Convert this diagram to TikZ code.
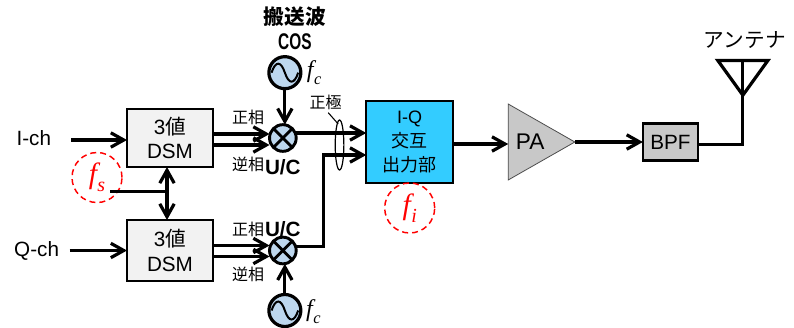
\documentclass[tikz,border=0pt]{standalone}
\usepackage{fontspec}
\usepackage{xcolor}
\usepackage{tikz}
\usetikzlibrary{arrows.meta,positioning,shapes.geometric}
\setmainfont{Liberation Sans}
\newfontfamily\jpfont{Noto Sans CJK JP}
\newfontfamily\serifit{Liberation Serif}
\newcommand{\freq}[1]{{\serifit\itshape f\kern.02em\raisebox{-.28em}{\scalebox{.68}{#1}}}}
\definecolor{myblue}{RGB}{189,215,238}
\definecolor{mycyan}{RGB}{51,204,255}
\definecolor{mygray}{RGB}{200,200,200}
\definecolor{mylight}{RGB}{242,242,242}

\begin{document}
\begin{tikzpicture}[
    every node/.style={outer sep=0pt, align=center},
    dsmbox/.style={draw, fill=mylight, line width=1.5pt, minimum width=64.5pt, minimum height=43.5pt,
        font=\fontsize{15.5}{18.5}\selectfont},
    mixer/.style={circle, draw, fill=myblue, line width=2.2pt, inner sep=0pt, minimum size=20pt,
        path picture={\draw[line width=2pt] (path picture bounding box.north west) -- (path picture bounding box.south east)
            (path picture bounding box.north east) -- (path picture bounding box.south west);}},
    osc/.style={circle, draw, fill=myblue, line width=2.4pt, inner sep=0pt, minimum size=24pt,
        path picture={\draw[line width=1.5pt, shift={(path picture bounding box.center)}]
            (-10pt,0) .. controls (-7pt,9pt) and (-3pt,9pt) .. (0,0) .. controls (3pt,-9pt) and (7pt,-9pt) .. (10pt,0);}},
    iqbox/.style={draw, fill=mycyan, line width=1.5pt, minimum width=65.25pt, minimum height=61.5pt,
        font=\fontsize{13.5}{18}\selectfont},
    pabox/.style={isosceles triangle, isosceles triangle apex angle=59, isosceles triangle stretches,
        draw=black!70, fill=mygray, line width=.6pt, inner sep=0pt, minimum width=57pt, minimum height=50pt},
    bpfbox/.style={draw, fill=mygray, line width=2pt, minimum width=41.25pt, minimum height=27.75pt,
        font=\fontsize{15.5}{18}\selectfont},
    clock/.style={circle, draw=red, dashed, dash pattern=on 4.5pt off 3pt, line width=1.1pt, inner sep=0pt,
        minimum size=37.5pt, text=red, font=\fontsize{22}{22}\selectfont},
    label/.style={inner sep=0pt, font=\fontsize{12}{14}\selectfont\jpfont},
    chlabel/.style={inner sep=0pt, font=\fontsize{15.5}{18}\selectfont},
    uclabel/.style={inner sep=0pt, font=\fontsize{15.5}{16}\selectfont\bfseries},
    wire/.style={line width=2.4pt},
    edge/.style={wire, -{Straight Barb[length=3.4mm,width=3.8mm]}}
]
\useasboundingbox (0,0) rectangle (595.5pt,-246pt);

\node[dsmbox] (dsmi) at (127.5pt,-103.5pt) {3{\jpfont 値}\\DSM};
\node[dsmbox, minimum height=45.75pt, below=39.75pt of dsmi] (dsmq) {3{\jpfont 値}\\DSM};
\node[chlabel, left=57pt of dsmi] (ich) {I-ch};
\node[chlabel, left=51pt of dsmq] (qch) {Q-ch};
\node[mixer, right=42.4pt of dsmi] (mixi) {};
\node[mixer, right=42.4pt of dsmq] (mixq) {};
\node[osc, above=27pt of mixi, xshift=1.5pt] (osci) {};
\node[osc, below=23pt of mixq, xshift=1.5pt] (oscq) {};
\node[iqbox, right=52.5pt of mixi, yshift=-3pt] (iq) {I-Q\\{\jpfont 交互}\\{\jpfont 出力部}};
\node[pabox, right=41.25pt of iq] (pa) {};
\node[chlabel, font=\fontsize{17}{18}\selectfont] (palabel) at ([xshift=16.5pt]pa.lower side) {PA};
\node[bpfbox, right=51pt of pa.apex] (bpf) {BPF};
\coordinate[right=33.75pt of bpf, yshift=-1.9pt] (antfoot);
\coordinate[above=63pt of antfoot] (anttop);
\node[label, font=\fontsize{15.5}{18}\selectfont\jpfont, above=9pt of anttop, xshift=1.5pt] (antlabel) {アンテナ};

\node[clock] (fs) at ([shift={(-54.75pt,-7.9pt)}]dsmi.south) {\freq{s}};
\node[clock, below=0pt of iq] (fi) {\freq{i}};
\node[inner sep=0pt, font=\fontsize{18}{18}\selectfont, right=4.5pt of osci] (fci) {\freq{c}};
\node[inner sep=0pt, font=\fontsize{18}{18}\selectfont, right=4pt of oscq, yshift=-1pt] (fcq) {\freq{c}};

\node[label, font=\fontsize{15.5}{18.75}\selectfont\jpfont\bfseries, above=5pt of osci, xshift=7.5pt] (carrier)
    {搬送波\\\scalebox{.68}[1]{\fontsize{17}{18.75}\selectfont\rmfamily\bfseries COS}};
\node[label, above left=9.75pt and 4pt of mixi.west] (posi) {正相};
\node[label, below left=14pt and 4pt of mixi.west] (negi) {逆相};
\node[label, above left=10.5pt and 4pt of mixq.west] (posq) {正相};
\node[label, below left=12.75pt and 4pt of mixq.west] (negq) {逆相};
\node[uclabel, below=6pt of mixi] (uci) {U/C};
\node[uclabel, above=.5pt of mixq] (ucq) {U/C};
\node[ellipse, draw, line width=.9pt, inner sep=0pt, minimum width=6.5pt, minimum height=37.5pt,
    right=29.25pt of mixi, yshift=-5.25pt] (pole) {};
\node[label, above=7.5pt of pole, xshift=-10.5pt] (polelabel) {正極};

\draw[edge] ([xshift=15pt,yshift=-1.5pt]ich.east) -- ([yshift=-1.5pt]dsmi.west);
\draw[edge] ([xshift=8pt]qch.east) -- (dsmq.west);
\draw[edge] ([yshift=3pt]dsmi.east) -- ([yshift=3pt]dsmi.east -| mixi.west);
\draw[edge] ([yshift=-5.25pt]dsmi.east) -- ([yshift=-5.25pt]dsmi.east -| mixi.west);
\draw[edge] ([yshift=3.75pt]dsmq.east) -- ([yshift=3.75pt]dsmq.east -| mixq.west);
\draw[edge] ([yshift=-4.5pt]dsmq.east) -- ([yshift=-4.5pt]dsmq.east -| mixq.west);
\draw[edge] (osci.south) -- (osci.south |- mixi.north);
\draw[edge] (oscq.north) -- (oscq.north |- mixq.south);
\draw[edge] ([yshift=3.75pt]mixi.east) -- ([yshift=3.75pt]mixi.east -| iq.west);
\draw[edge] ([yshift=3pt]mixq.east) -- ++(20.25pt,0) |- ([yshift=-9.75pt]iq.west);
\draw[edge] ([yshift=-1.5pt]iq.east) -- ([yshift=-1.5pt]iq.east -| pa.lower side);
\draw[edge] (pa.apex) -- (bpf.west);
\draw[wire] ([yshift=-1.9pt]bpf.east) -- (antfoot) -- (anttop);
\draw[wire, line join=miter] ([xshift=-18.75pt]anttop) -- ([xshift=18.75pt]anttop) -- ([yshift=-26pt]anttop) -- cycle;
\coordinate (clkjoin) at ([xshift=-2.25pt,yshift=-18.4pt]dsmi.south);
\draw[wire] ([shift={(9.75pt,-10.5pt)}]fs.center) -- (clkjoin);
\draw[edge, {Straight Barb[length=3.4mm,width=3.8mm]}-{Straight Barb[length=3.4mm,width=3.8mm]}]
    ([xshift=-2.25pt]dsmi.south) -- ([xshift=-2.25pt]dsmi.south |- dsmq.north);
\draw[line width=.8pt] ([xshift=2pt,yshift=-2pt]polelabel.south) -- ([xshift=-1pt,yshift=-3pt]pole.north);
\end{tikzpicture}
\end{document}
